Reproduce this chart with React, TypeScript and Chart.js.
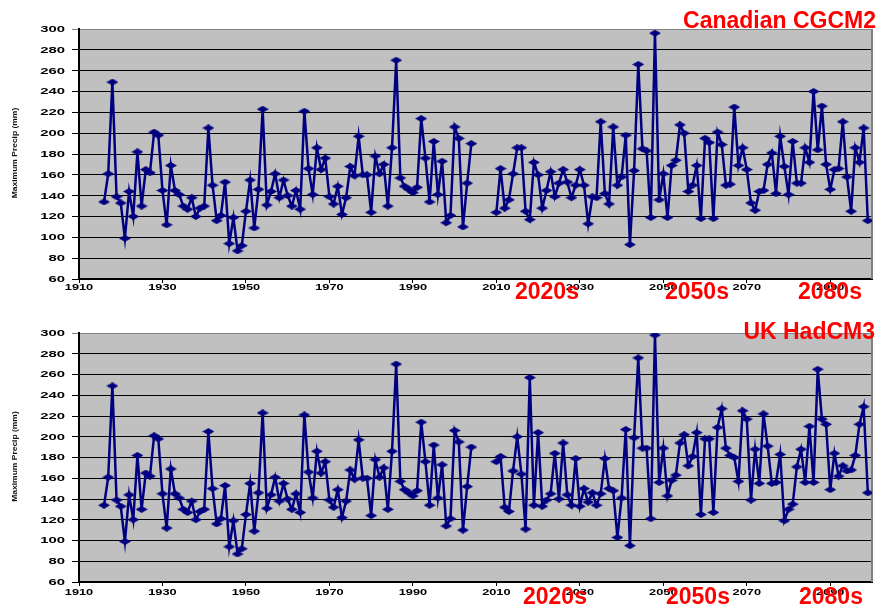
import React, { useEffect, useRef } from 'react';
import { Chart, registerables } from 'chart.js';

Chart.register(...registerables);

// ---------------- data ----------------
const histStartYear = 1916;
const historical = [
  134, 161, 249, 139, 133, 99, 144, 120, 182, 130,
  165, 162, 201, 198, 145, 112, 169, 145, 141, 130,
  127, 138, 120, 128, 130, 205, 150, 116, 121, 153,
  94, 119, 87, 92, 125, 155, 109, 146, 223, 131,
  144, 161, 138, 155, 140, 130, 145, 127, 221, 166,
  141, 186, 165, 176, 139, 132, 149, 122, 138, 168,
  159, 197, 160, 160, 124, 178, 161, 170, 130, 186,
  270, 157, 149, 146, 143, 148, 214, 176, 134, 192,
  141, 173, 114, 121, 206, 195, 110, 152, 190,
];

const futureStartYear = 2010;
const canadianCGCM2 = [
  124, 166, 128, 136, 161, 186, 186, 125, 117, 172,
  160, 128, 145, 163, 139, 152, 165, 153, 138, 150,
  165, 150, 113, 139, 138, 211, 142, 132, 206, 150,
  158, 198, 93, 164, 266, 185, 183, 119, 296, 136,
  161, 119, 169, 174, 208, 200, 144, 150, 169, 118,
  195, 191, 118, 201, 189, 150, 151, 225, 169, 186,
  165, 133, 126, 144, 145, 170, 181, 142, 197, 168,
  141, 192, 152, 152, 186, 172, 240, 184, 226, 170,
  146, 165, 166, 211, 158, 125, 186, 172, 205, 116,
];
const ukHadCM3 = [
  176, 181, 132, 128, 167, 200, 164, 111, 257, 134,
  204, 133, 139, 145, 184, 140, 194, 144, 134, 179,
  133, 150, 137, 146, 134, 145, 179, 150, 148, 103,
  141, 207, 95, 199, 276, 189, 189, 121, 298, 156,
  189, 143, 158, 163, 194, 202, 172, 181, 204, 125,
  198, 198, 127, 209, 227, 189, 182, 180, 157, 225,
  217, 139, 188, 155, 222, 191, 155, 156, 183, 119,
  130, 135, 171, 188, 156, 210, 156, 265, 217, 212,
  149, 184, 162, 172, 167, 168, 182, 212, 229, 146,
];

const xTickYears = [1910, 1930, 1950, 1970, 1990, 2010, 2030, 2050, 2070, 2090];
const yTitle = 'Maximum Precip (mm)';
const modelTitles = ['Canadian CGCM2', 'UK HadCM3'];
const periodLabels = ['2020s', '2050s', '2080s'];

// ---------------- helpers ----------------
function buildPoints(future: number[]) {
  const pts: { x: number; y: number | null }[] = historical.map((v, i) => ({ x: histStartYear + i, y: v }));
  pts.push({ x: histStartYear + historical.length + 1, y: null });
  future.forEach((v, i) => pts.push({ x: futureStartYear + i, y: v }));
  return pts;
}

function makeDiamond() {
  const c = document.createElement('canvas');
  c.width = 12;
  c.height = 7;
  const g = c.getContext('2d')!;
  g.fillStyle = '#000080';
  g.beginPath();
  g.moveTo(6, 0);
  g.lineTo(12, 3.5);
  g.lineTo(6, 7);
  g.lineTo(0, 3.5);
  g.closePath();
  g.fill();
  return c;
}

const FONT = '"Liberation Sans", Arial, Helvetica, sans-serif';

function decoPlugin(xLabelDy: number) {
  return {
    id: 'panelDeco',
    beforeDraw(chart: any) {
      const { ctx, chartArea: a } = chart;
      ctx.save();
      ctx.fillStyle = '#C0C0C0';
      ctx.fillRect(a.left, a.top, a.right - a.left, a.bottom - a.top);
      ctx.restore();
    },
    beforeDatasetsDraw(chart: any) {
      const { ctx, chartArea: a } = chart;
      ctx.save();
      ctx.strokeStyle = '#808080';
      ctx.lineWidth = 2;
      ctx.beginPath();
      ctx.moveTo(a.right, a.top);
      ctx.lineTo(a.right, a.bottom);
      ctx.stroke();
      ctx.restore();
    },
    afterDraw(chart: any) {
      const { ctx, chartArea: a } = chart;
      const xs = chart.scales.x;
      const ys = chart.scales.y;
      ctx.save();
      ctx.fillStyle = '#000000';
      ctx.font = `bold 9px ${FONT}`;
      ctx.textBaseline = 'middle';
      // y tick labels (stretched horizontally like the original)
      ys.ticks.forEach((t: any) => {
        const y = ys.getPixelForValue(t.value);
        ctx.save();
        ctx.translate(65, y + 0.5);
        ctx.scale(1.65, 1);
        ctx.textAlign = 'right';
        ctx.fillText(String(t.value), 0, 0);
        ctx.restore();
      });
      // x tick labels
      xs.ticks.forEach((t: any) => {
        const x = xs.getPixelForValue(t.value);
        ctx.save();
        ctx.translate(x, a.bottom + xLabelDy);
        ctx.scale(1.42, 1);
        ctx.textAlign = 'center';
        ctx.fillText(String(t.value), 0, 0);
        ctx.restore();
      });
      // y axis title
      ctx.save();
      ctx.translate(15, (a.top + a.bottom) / 2 - 1);
      ctx.rotate(-Math.PI / 2);
      ctx.scale(1.06, 1);
      ctx.textAlign = 'center';
      ctx.font = `bold 8px ${FONT}`;
      ctx.fillStyle = '#111111';
      ctx.fillText(yTitle, 0, 0);
      ctx.restore();
      ctx.restore();
    },
  };
}

function makeChart(canvas: HTMLCanvasElement, future: number[], padTop: number, padBottom: number, xLabelDy: number) {
  const diamond = makeDiamond();
  return new Chart(canvas, {
    type: 'line',
    data: {
      datasets: [
        {
          data: buildPoints(future) as any,
          borderColor: '#000080',
          backgroundColor: '#000080',
          borderWidth: 2.5,
          pointStyle: diamond as any,
          pointRadius: 4,
          spanGaps: false,
          tension: 0,
        },
      ],
    },
    options: {
      responsive: false,
      animation: false,
      events: [],
      layout: { padding: { left: 0, right: 14, top: padTop, bottom: padBottom } },
      plugins: { legend: { display: false }, tooltip: { enabled: false } },
      scales: {
        x: {
          type: 'linear',
          min: 1910,
          max: 2100,
          afterBuildTicks: (scale: any) => {
            scale.ticks = xTickYears.map((v) => ({ value: v }));
          },
          afterFit: (scale: any) => {
            scale.height = 20;
          },
          ticks: { display: false },
          grid: { drawOnChartArea: false, drawTicks: true, tickLength: 4, color: '#000000', lineWidth: 1 },
          border: { display: true, color: '#000000', width: 2 },
        },
        y: {
          type: 'linear',
          min: 60,
          max: 300,
          afterFit: (scale: any) => {
            scale.width = 79;
          },
          ticks: { display: false, stepSize: 20 },
          grid: {
            drawTicks: true,
            tickLength: 7,
            lineWidth: 1,
            color: (c: any) => (c.tick && c.tick.value === 300 ? '#808080' : '#000000'),
          },
          border: { display: true, color: '#000000', width: 2 },
        },
      },
    },
    plugins: [decoPlugin(xLabelDy)],
  });
}

const redStyle: React.CSSProperties = {
  position: 'absolute',
  color: '#FF0000',
  fontFamily: FONT,
  fontWeight: 'bold',
  fontSize: '23px',
  lineHeight: '23px',
  whiteSpace: 'nowrap',
};

export default function App() {
  const topRef = useRef<HTMLCanvasElement>(null);
  const botRef = useRef<HTMLCanvasElement>(null);

  useEffect(() => {
    const c1 = makeChart(topRef.current!, canadianCGCM2, 29, 6, 8.5);
    const c2 = makeChart(botRef.current!, ukHadCM3, 28, 8, 10.5);
    return () => {
      c1.destroy();
      c2.destroy();
    };
  }, []);

  return (
    <div style={{ position: 'fixed', left: 0, top: 0, width: 886, height: 610, background: '#ffffff', overflow: 'hidden' }}>
      <canvas ref={topRef} width={886} height={305} style={{ position: 'absolute', left: 0, top: 0, width: 886, height: 305 }} />
      <canvas ref={botRef} width={886} height={305} style={{ position: 'absolute', left: 0, top: 305, width: 886, height: 305 }} />
      <div style={{ ...redStyle, right: 10, top: 9 }}>{modelTitles[0]}</div>
      <div style={{ ...redStyle, right: 11, top: 320 }}>{modelTitles[1]}</div>
      <div style={{ ...redStyle, left: 515, top: 280 }}>{periodLabels[0]}</div>
      <div style={{ ...redStyle, left: 665, top: 280 }}>{periodLabels[1]}</div>
      <div style={{ ...redStyle, left: 798, top: 280 }}>{periodLabels[2]}</div>
      <div style={{ ...redStyle, left: 523, top: 585 }}>{periodLabels[0]}</div>
      <div style={{ ...redStyle, left: 666, top: 585 }}>{periodLabels[1]}</div>
      <div style={{ ...redStyle, left: 799, top: 585 }}>{periodLabels[2]}</div>
    </div>
  );
}
